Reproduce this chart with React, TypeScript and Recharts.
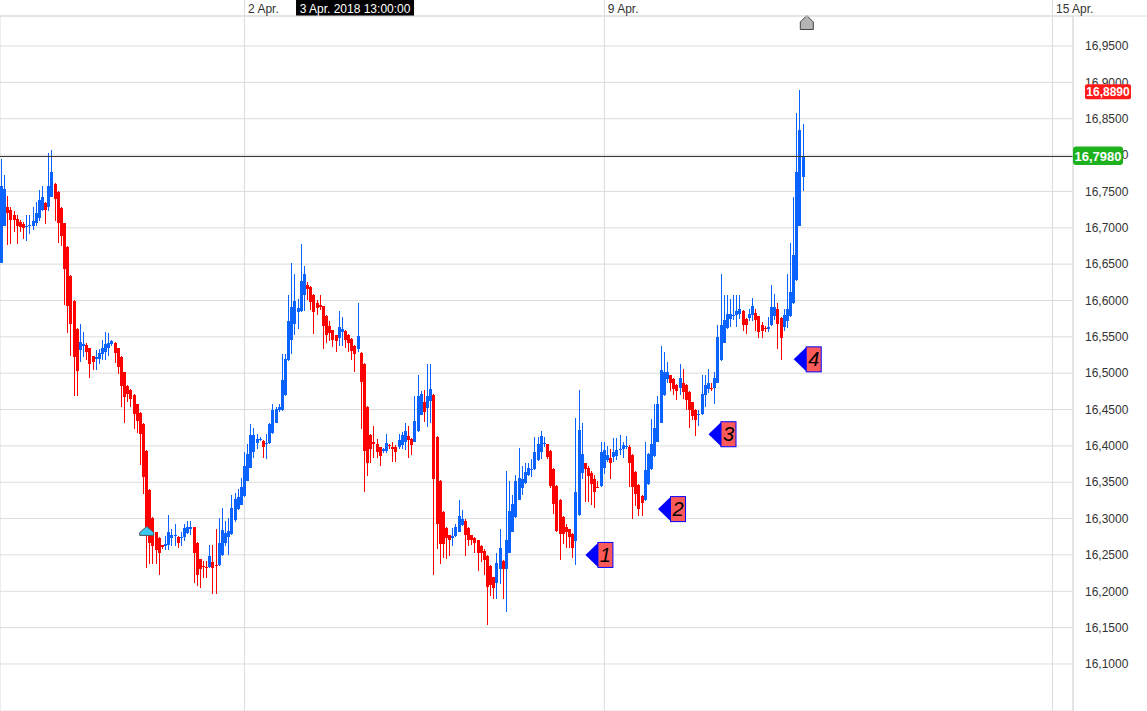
import React from 'react';
import {
  ComposedChart,
  Bar,
  XAxis,
  YAxis,
  CartesianGrid,
  ReferenceLine,
  ReferenceDot,
} from 'recharts';

// ---------------- data (hourly candles) ----------------
const OPEN = [
  16.651, 16.703, 16.728, 16.724, 16.717, 16.712, 16.708, 16.705, 16.702, 16.702,
  16.703, 16.707, 16.713, 16.725, 16.734, 16.729, 16.743, 16.760, 16.749, 16.727,
  16.706, 16.674, 16.634, 16.599, 16.561, 16.532, 16.537, 16.539, 16.534, 16.523,
  16.519, 16.520, 16.527, 16.529, 16.535, 16.540, 16.542, 16.534, 16.522, 16.501,
  16.483, 16.477, 16.470, 16.457, 16.445, 16.430, 16.393, 16.339, 16.301, 16.281,
  16.273, 16.263, 16.262, 16.264, 16.273, 16.276, 16.275, 16.273, 16.274, 16.280,
  16.286, 16.288, 16.267, 16.244, 16.235, 16.234, 16.233, 16.240, 16.236, 16.236,
  16.250, 16.267, 16.275, 16.279, 16.298, 16.313, 16.319, 16.331, 16.352, 16.370,
  16.392, 16.404, 16.409, 16.407, 16.403, 16.404, 16.418, 16.432, 16.449, 16.449,
  16.470, 16.518, 16.545, 16.568, 16.584, 16.585, 16.607, 16.621, 16.619, 16.608,
  16.596, 16.594, 16.592, 16.579, 16.565, 16.559, 16.552, 16.549, 16.556, 16.558,
  16.553, 16.547, 16.538, 16.533, 16.528, 16.513, 16.454, 16.415, 16.405, 16.403,
  16.398, 16.393, 16.393, 16.401, 16.399, 16.398, 16.398, 16.401, 16.406, 16.414,
  16.410, 16.406, 16.420, 16.443, 16.460, 16.452, 16.462, 16.470, 16.412, 16.352,
  16.309, 16.287, 16.277, 16.273, 16.276, 16.282, 16.291, 16.297, 16.287, 16.277,
  16.273, 16.270, 16.262, 16.256, 16.249, 16.235, 16.219, 16.211, 16.230, 16.242,
  16.230, 16.253, 16.282, 16.302, 16.326, 16.342, 16.349, 16.360, 16.367, 16.368,
  16.381, 16.391, 16.403, 16.402, 16.393, 16.368, 16.345, 16.326, 16.302, 16.289,
  16.285, 16.279, 16.269, 16.305, 16.362, 16.376, 16.369, 16.362, 16.355, 16.344,
  16.345, 16.369, 16.381, 16.383, 16.384, 16.386, 16.395, 16.396, 16.399, 16.399,
  16.388, 16.364, 16.346, 16.331, 16.325, 16.347, 16.368, 16.386, 16.406, 16.432,
  16.470, 16.492, 16.497, 16.492, 16.484, 16.480, 16.486, 16.484, 16.474, 16.460,
  16.450, 16.443, 16.444, 16.470, 16.478, 16.479, 16.480, 16.487, 16.518, 16.542,
  16.562, 16.575, 16.579, 16.580, 16.582, 16.586, 16.575, 16.576, 16.580, 16.583,
  16.578, 16.566, 16.562, 16.561, 16.566, 16.578, 16.588, 16.576, 16.564, 16.572,
  16.578, 16.596, 16.628, 16.703, 16.770,
];

const HIGH = [
  16.794, 16.772, 16.744, 16.728, 16.723, 16.717, 16.711, 16.708, 16.717, 16.717,
  16.728, 16.736, 16.752, 16.757, 16.735, 16.803, 16.807, 16.761, 16.750, 16.728,
  16.707, 16.675, 16.635, 16.600, 16.562, 16.567, 16.556, 16.542, 16.535, 16.524,
  16.532, 16.533, 16.545, 16.556, 16.555, 16.546, 16.543, 16.535, 16.523, 16.502,
  16.484, 16.478, 16.471, 16.458, 16.446, 16.431, 16.394, 16.340, 16.302, 16.282,
  16.274, 16.264, 16.276, 16.305, 16.286, 16.292, 16.276, 16.281, 16.292, 16.297,
  16.297, 16.289, 16.268, 16.245, 16.241, 16.241, 16.264, 16.264, 16.285, 16.301,
  16.315, 16.296, 16.301, 16.333, 16.335, 16.341, 16.356, 16.391, 16.402, 16.430,
  16.424, 16.416, 16.412, 16.408, 16.417, 16.431, 16.457, 16.453, 16.458, 16.527,
  16.527, 16.608, 16.651, 16.636, 16.602, 16.677, 16.647, 16.625, 16.620, 16.609,
  16.601, 16.608, 16.593, 16.580, 16.572, 16.560, 16.553, 16.585, 16.577, 16.559,
  16.554, 16.548, 16.539, 16.596, 16.529, 16.514, 16.455, 16.416, 16.427, 16.409,
  16.399, 16.397, 16.416, 16.402, 16.406, 16.401, 16.416, 16.419, 16.431, 16.428,
  16.411, 16.468, 16.497, 16.476, 16.477, 16.512, 16.512, 16.471, 16.413, 16.353,
  16.310, 16.288, 16.278, 16.287, 16.293, 16.326, 16.312, 16.300, 16.288, 16.278,
  16.274, 16.271, 16.263, 16.258, 16.250, 16.236, 16.220, 16.253, 16.286, 16.243,
  16.366, 16.352, 16.332, 16.360, 16.397, 16.372, 16.376, 16.377, 16.382, 16.412,
  16.412, 16.420, 16.412, 16.403, 16.394, 16.369, 16.346, 16.327, 16.303, 16.293,
  16.286, 16.280, 16.438, 16.477, 16.431, 16.377, 16.372, 16.366, 16.360, 16.352,
  16.405, 16.406, 16.400, 16.396, 16.411, 16.411, 16.415, 16.406, 16.414, 16.401,
  16.389, 16.365, 16.347, 16.332, 16.406, 16.390, 16.437, 16.457, 16.469, 16.538,
  16.529, 16.516, 16.498, 16.493, 16.485, 16.512, 16.506, 16.485, 16.475, 16.461,
  16.451, 16.449, 16.497, 16.498, 16.506, 16.486, 16.501, 16.566, 16.636, 16.607,
  16.607, 16.602, 16.607, 16.607, 16.607, 16.587, 16.576, 16.588, 16.603, 16.588,
  16.579, 16.571, 16.565, 16.577, 16.621, 16.609, 16.596, 16.577, 16.588, 16.636,
  16.679, 16.743, 16.858, 16.889, 16.843,
];

const LOW = [
  16.651, 16.703, 16.676, 16.678, 16.694, 16.678, 16.694, 16.684, 16.682, 16.692,
  16.697, 16.703, 16.709, 16.723, 16.705, 16.723, 16.742, 16.710, 16.679, 16.675,
  16.594, 16.555, 16.523, 16.469, 16.468, 16.516, 16.522, 16.518, 16.493, 16.504,
  16.505, 16.512, 16.518, 16.518, 16.523, 16.538, 16.514, 16.499, 16.453, 16.432,
  16.460, 16.453, 16.423, 16.418, 16.374, 16.334, 16.232, 16.237, 16.237, 16.237,
  16.223, 16.258, 16.257, 16.257, 16.262, 16.262, 16.260, 16.262, 16.269, 16.279,
  16.278, 16.211, 16.207, 16.205, 16.218, 16.218, 16.232, 16.196, 16.196, 16.235,
  16.249, 16.262, 16.250, 16.278, 16.295, 16.312, 16.318, 16.330, 16.351, 16.369,
  16.383, 16.396, 16.407, 16.383, 16.382, 16.403, 16.417, 16.431, 16.447, 16.448,
  16.469, 16.517, 16.527, 16.553, 16.561, 16.584, 16.585, 16.601, 16.587, 16.554,
  16.580, 16.587, 16.533, 16.541, 16.544, 16.536, 16.529, 16.538, 16.538, 16.534,
  16.529, 16.518, 16.502, 16.529, 16.423, 16.337, 16.358, 16.377, 16.383, 16.383,
  16.372, 16.390, 16.390, 16.396, 16.378, 16.378, 16.396, 16.396, 16.395, 16.383,
  16.388, 16.405, 16.419, 16.442, 16.433, 16.426, 16.431, 16.223, 16.258, 16.237,
  16.246, 16.244, 16.248, 16.262, 16.274, 16.281, 16.290, 16.248, 16.262, 16.263,
  16.252, 16.228, 16.240, 16.223, 16.153, 16.193, 16.190, 16.190, 16.210, 16.189,
  16.171, 16.252, 16.281, 16.301, 16.325, 16.332, 16.348, 16.359, 16.357, 16.367,
  16.379, 16.382, 16.399, 16.382, 16.342, 16.306, 16.282, 16.243, 16.265, 16.260,
  16.259, 16.246, 16.236, 16.304, 16.354, 16.323, 16.323, 16.319, 16.314, 16.342,
  16.344, 16.361, 16.378, 16.354, 16.378, 16.380, 16.387, 16.383, 16.396, 16.343,
  16.299, 16.317, 16.303, 16.303, 16.324, 16.346, 16.367, 16.385, 16.405, 16.431,
  16.469, 16.486, 16.475, 16.470, 16.463, 16.470, 16.465, 16.449, 16.424, 16.435,
  16.413, 16.428, 16.442, 16.453, 16.473, 16.475, 16.458, 16.486, 16.517, 16.541,
  16.561, 16.564, 16.573, 16.564, 16.575, 16.558, 16.554, 16.572, 16.572, 16.558,
  16.549, 16.549, 16.557, 16.557, 16.565, 16.573, 16.533, 16.518, 16.558, 16.562,
  16.577, 16.595, 16.627, 16.702, 16.751,
];

const CLOSE = [
  16.758, 16.753, 16.720, 16.711, 16.711, 16.702, 16.701, 16.700, 16.703, 16.704,
  16.709, 16.720, 16.738, 16.742, 16.725, 16.758, 16.777, 16.739, 16.706, 16.688,
  16.643, 16.593, 16.567, 16.522, 16.503, 16.543, 16.540, 16.529, 16.513, 16.516,
  16.522, 16.528, 16.535, 16.540, 16.542, 16.544, 16.528, 16.509, 16.482, 16.467,
  16.472, 16.465, 16.444, 16.434, 16.416, 16.357, 16.280, 16.266, 16.262, 16.257,
  16.253, 16.261, 16.265, 16.281, 16.278, 16.277, 16.267, 16.275, 16.287, 16.288,
  16.288, 16.252, 16.223, 16.230, 16.233, 16.232, 16.248, 16.232, 16.235, 16.266,
  16.284, 16.280, 16.283, 16.315, 16.327, 16.329, 16.343, 16.372, 16.389, 16.415,
  16.415, 16.410, 16.410, 16.398, 16.404, 16.430, 16.449, 16.451, 16.453, 16.491,
  16.519, 16.572, 16.591, 16.599, 16.590, 16.627, 16.636, 16.616, 16.598, 16.584,
  16.590, 16.591, 16.565, 16.553, 16.555, 16.545, 16.544, 16.564, 16.561, 16.545,
  16.541, 16.531, 16.526, 16.551, 16.488, 16.393, 16.377, 16.396, 16.402, 16.391,
  16.386, 16.396, 16.404, 16.400, 16.396, 16.392, 16.408, 16.415, 16.420, 16.408,
  16.401, 16.434, 16.468, 16.472, 16.447, 16.469, 16.478, 16.355, 16.293, 16.265,
  16.265, 16.273, 16.270, 16.276, 16.289, 16.304, 16.299, 16.277, 16.270, 16.270,
  16.267, 16.252, 16.252, 16.243, 16.206, 16.208, 16.204, 16.239, 16.259, 16.230,
  16.270, 16.311, 16.320, 16.351, 16.356, 16.354, 16.364, 16.370, 16.368, 16.391,
  16.403, 16.414, 16.404, 16.385, 16.345, 16.320, 16.283, 16.279, 16.279, 16.281,
  16.274, 16.259, 16.337, 16.422, 16.389, 16.368, 16.358, 16.347, 16.337, 16.343,
  16.392, 16.394, 16.387, 16.377, 16.391, 16.394, 16.396, 16.401, 16.400, 16.377,
  16.343, 16.334, 16.313, 16.321, 16.367, 16.389, 16.403, 16.424, 16.457, 16.505,
  16.502, 16.501, 16.486, 16.478, 16.475, 16.493, 16.474, 16.463, 16.449, 16.441,
  16.436, 16.444, 16.472, 16.484, 16.487, 16.478, 16.493, 16.550, 16.566, 16.573,
  16.582, 16.581, 16.580, 16.586, 16.588, 16.566, 16.566, 16.581, 16.592, 16.573,
  16.557, 16.558, 16.561, 16.564, 16.591, 16.591, 16.568, 16.548, 16.580, 16.588,
  16.612, 16.662, 16.777, 16.835, 16.798,
];

// time slots (hourly) shown on the x axis, including empty future slots
const SLOT_COUNT = 340;
const X_TICKS = [77, 191, 333];
const X_TICK_LABELS = ['2 Apr.', '9 Apr.', '15 Apr.'];

const Y_TICKS = [
  16.1, 16.15, 16.2, 16.25, 16.3, 16.35, 16.4, 16.45, 16.5, 16.55,
  16.6, 16.65, 16.7, 16.75, 16.8, 16.85, 16.9, 16.95,
];
const Y_DOMAIN: [number, number] = [16.0353, 16.9913];

const LAST_PRICE = 16.798;
const MAX_PRICE = 16.889;
const BADGE_PRICES = [MAX_PRICE, LAST_PRICE];

const CURSOR_SLOT = 112;
const CURSOR_LABEL = '3 Apr. 2018 13:00:00';
const NOW_SLOT = 255;

const SIGNAL_SLOTS = [185, 208, 224, 251];
const SIGNAL_PRICES = [16.25, 16.313, 16.416, 16.519];
const SIGNAL_LABELS = ['1', '2', '3', '4'];

const ARROW_SLOT = 46;
const ARROW_PRICE = 16.283;

// ---------------- styling ----------------
const BLUE = '#0a62ff';
const RED = '#ff0000';
const GRID = '#dcdcdc';
const FONT = '"Liberation Sans", Arial, sans-serif';
const PLOT_RIGHT = 1073;

const fmt = (v: number) => v.toFixed(4).replace('.', ',');

const data = Array.from({ length: SLOT_COUNT }, (_, i) =>
  i < OPEN.length
    ? { i, o: OPEN[i], h: HIGH[i], l: LOW[i], c: CLOSE[i], range: [LOW[i], HIGH[i]] }
    : { i, o: null, h: null, l: null, c: null, range: null }
);

const Candle = (props: any) => {
  const { x, y, width, height, payload } = props;
  if (!payload || payload.o == null || x == null || y == null) return null;
  const top = Math.min(y, y + height);
  const hgt = Math.abs(height);
  const span = payload.h - payload.l;
  const py = (v: number) => top + ((payload.h - v) / span) * hgt;
  const cx = Math.round(x + width / 2 - 0.5);
  const up = payload.c >= payload.o;
  const color = up ? BLUE : RED;
  const bTop = py(Math.max(payload.o, payload.c));
  const bBot = py(Math.min(payload.o, payload.c));
  return (
    <g shapeRendering="crispEdges">
      <rect x={cx} y={top} width={1} height={Math.max(1, hgt)} fill={color} />
      <rect x={cx - 1} y={bTop} width={3} height={Math.max(1, bBot - bTop)} fill={color} />
    </g>
  );
};

const XTick = (props: any) => {
  const { x, payload } = props;
  const idx = X_TICKS.indexOf(payload.value);
  return (
    <text x={x + 3.5} y={12.5} fontSize={12} fontFamily={FONT} fill="#333">
      {idx >= 0 ? X_TICK_LABELS[idx] : ''}
    </text>
  );
};

const YTick = (props: any) => {
  const { x, y, payload } = props;
  return (
    <text x={x} y={y} dy="0.355em" fontSize={12} fontFamily={FONT} fill="#333" textAnchor="start">
      {fmt(payload.value)}
    </text>
  );
};

// price badges: ticks of a second (overlay) price axis, drawn after the main axis
const BadgeTick = (props: any) => {
  const { y, payload } = props;
  const v = payload.value;
  if (Math.abs(v - MAX_PRICE) < 1e-9) {
    const x0 = PLOT_RIGHT + 12;
    return (
      <g>
        <rect x={x0} y={y - 6} width={46} height={15} rx={2} fill="#ff1a1a" />
        <text x={x0 + 23} y={y + 5.5} textAnchor="middle" fontSize={12} fontWeight="bold" fontFamily={FONT} fill="#fff">
          {fmt(v)}
        </text>
      </g>
    );
  }
  const x0 = PLOT_RIGHT;
  return (
    <g>
      <rect x={x0} y={y - 10} width={50} height={18.5} rx={3} fill="#1db11d" />
      <text x={x0 + 25} y={y + 4} textAnchor="middle" fontSize={13} fontWeight="bold" fontFamily={FONT} fill="#fff">
        {fmt(v)}
      </text>
    </g>
  );
};

const renderSignal = (cx: number, cy: number, label: string) => (
  <g>
    <polygon points={`${cx},${cy} ${cx + 13},${cy - 12.5} ${cx + 13},${cy + 12.5}`} fill="#0000ff" />
    <rect x={cx + 12.5} y={cy - 12.5} width={15} height={25} fill="#ff5a5a" stroke="#0000ff" strokeWidth={1} />
    <text
      x={cx + 20}
      y={cy + 7}
      textAnchor="middle"
      fontSize={20}
      fontStyle="italic"
      fontFamily={FONT}
      fill="#000"
    >
      {label}
    </text>
  </g>
);

const renderArrow = (cx: number, cy: number) => (
  <polygon
    points={`${cx},${cy - 4.5} ${cx + 7},${cy + 1.5} ${cx + 7},${cy + 4.5} ${cx - 7},${cy + 4.5} ${cx - 7},${cy + 1.5}`}
    fill="#3cc8f0"
    stroke="#555"
    strokeWidth={1}
  />
);

export default function App() {
  return (
    <div style={{ position: 'absolute', left: 0, top: 0, width: 1147, height: 711, background: '#fff' }}>
      <style>{`html,body{margin:0;padding:0;background:#fff;}`}</style>
      <ComposedChart
        width={1147}
        height={711}
        data={data}
        margin={{ top: 0, right: 0, bottom: 0, left: 0 }}
        barCategoryGap={0}
        barGap={0}
      >
        <CartesianGrid stroke={GRID} horizontal vertical />
        <XAxis
          dataKey="i"
          type="category"
          orientation="top"
          height={16}
          ticks={X_TICKS}
          interval={0}
          tickSize={16}
          tickLine={{ stroke: GRID }}
          axisLine={{ stroke: GRID }}
          tick={<XTick />}
        />
        <YAxis
          orientation="right"
          type="number"
          domain={Y_DOMAIN}
          ticks={Y_TICKS}
          allowDataOverflow
          interval={0}
          width={73}
          tickLine={false}
          tickSize={0}
          tickMargin={12}
          axisLine={{ stroke: GRID }}
          tick={<YTick />}
          label={{
            content: (p: any) => {
              const vb = p.viewBox || {};
              return <line x1={vb.x} x2={(vb.x || 0) + (vb.width || 0) + 1} y1={16} y2={16} stroke={GRID} />;
            },
          }}
        />
        <YAxis
          yAxisId="badges"
          orientation="right"
          type="number"
          domain={Y_DOMAIN}
          ticks={BADGE_PRICES}
          allowDataOverflow
          interval={0}
          width={1}
          tickLine={false}
          axisLine={false}
          tick={<BadgeTick />}
        />
        <Bar dataKey="range" isAnimationActive={false} shape={<Candle />} />
        <ReferenceLine y={LAST_PRICE} stroke="#333" strokeWidth={1} />
        <ReferenceLine
          x={CURSOR_SLOT}
          strokeOpacity={0}
          label={{
            content: (p: any) => {
              const vb = p.viewBox || {};
              const xx = vb.x || 0;
              return (
                <g>
                  <rect x={xx - 59} y={0} width={118} height={16} fill="#000" />
                  <text x={xx} y={12.5} textAnchor="middle" fontSize={12} fontFamily={FONT} fill="#fff">
                    {CURSOR_LABEL}
                  </text>
                </g>
              );
            },
          }}
        />
        <ReferenceLine
          x={NOW_SLOT}
          strokeOpacity={0}
          label={{
            content: (p: any) => {
              const vb = p.viewBox || {};
              const xx = (vb.x || 0) + 0.5;
              return (
                <polygon
                  points={`${xx - 6.5},29.5 ${xx - 6.5},22 ${xx},15.5 ${xx + 6.5},22 ${xx + 6.5},29.5`}
                  fill="#b4b4b4"
                  stroke="#444"
                  strokeWidth={1}
                />
              );
            },
          }}
        />
        <ReferenceDot
          x={ARROW_SLOT}
          y={ARROW_PRICE}
          r={0}
          shape={(p: any) => renderArrow(p.cx, p.cy)}
        />
        {SIGNAL_SLOTS.map((s, k) => (
          <ReferenceDot
            key={k}
            x={s}
            y={SIGNAL_PRICES[k]}
            r={0}
            shape={(p: any) => renderSignal(p.cx, p.cy, SIGNAL_LABELS[k])}
          />
        ))}
      </ComposedChart>
    </div>
  );
}
